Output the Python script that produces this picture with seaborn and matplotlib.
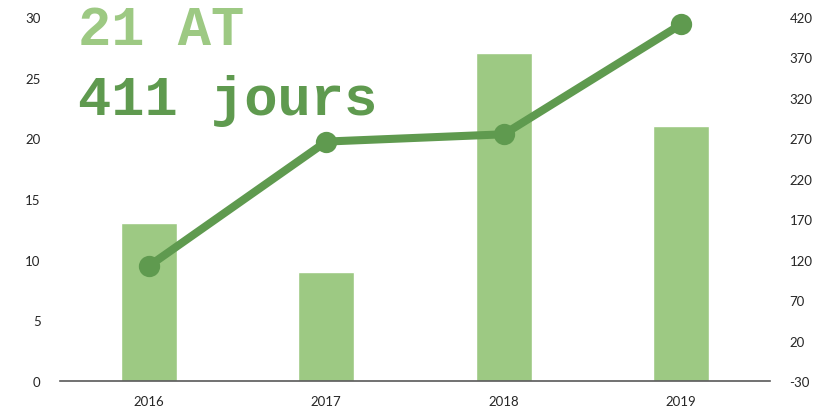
import pandas as pd
import matplotlib.pyplot as plt
import seaborn as sns

years = ['2016', '2017', '2018', '2019']
accidents = [13, 9, 27, 21]
jours = [112, 266, 275, 411]

df = pd.DataFrame({'Annee': years, 'AT': accidents, 'Jours': jours})

light_green = '#9DC983'
dark_green = '#5F9A4F'

sns.set_style('white')
plt.rcParams['font.family'] = ['Lato', 'DejaVu Sans']
plt.rcParams['axes.unicode_minus'] = False

fig = plt.figure(figsize=(8.37, 4.10), dpi=100)
ax = fig.add_axes([60 / 837, 28 / 410, 710 / 837, 364 / 410])

sns.barplot(x='Annee', y='AT', data=df, color=light_green, width=0.315,
            saturation=1, ax=ax)
ax.set_ylim(0, 30)
ax.set_yticks(range(0, 31, 5))
ax.set_xlim(-0.5, 3.5)

ax2 = ax.twinx()
sns.pointplot(x='Annee', y='Jours', data=df, color=dark_green, ax=ax2,
              markers='o', markersize=11, linewidth=5.8)
ax2.set_ylim(-30, 420)
ax2.set_yticks(range(-30, 421, 50))
ax2.set_xlim(-0.5, 3.5)
for art in ax2.lines + ax2.collections:
    art.set_clip_on(False)

for a in (ax, ax2):
    a.set_xlabel('')
    a.set_ylabel('')
    for s in a.spines.values():
        s.set_visible(False)
    a.tick_params(length=0, labelsize=9.5, colors='#262626')
ax.spines['bottom'].set_visible(True)
ax.spines['bottom'].set_color('#595959')
ax.spines['bottom'].set_linewidth(1.2)
ax.tick_params(axis='y', pad=14)
ax.tick_params(axis='x', pad=10)
ax2.tick_params(axis='y', pad=14)

fig.text(78 / 837, 1 - 45 / 410, '21 AT', color=light_green,
         family='Liberation Mono', weight='bold', fontsize=40)
fig.text(78 / 837, 1 - 115 / 410, '411 jours', color=dark_green,
         family='Liberation Mono', weight='bold', fontsize=40)

fig.savefig('out.png', dpi=100)
